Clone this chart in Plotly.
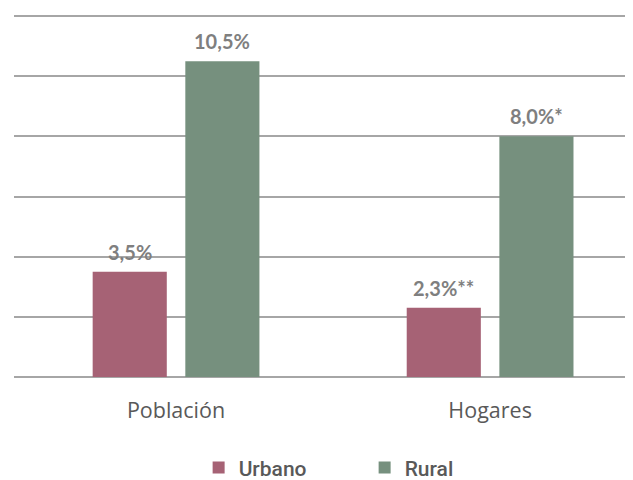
import plotly.graph_objects as go

categories = ["Población", "Hogares"]
series_names = ["Urbano", "Rural"]
urbano = [3.5, 2.3]
rural = [10.5, 8.0]
urbano_labels = ["3,5%", "2,3%**"]
rural_labels = ["10,5%", "8,0%*"]
y_ticks = [0, 2, 4, 6, 8, 10, 12]

colors = {"Urbano": "#A66275", "Rural": "#76907E"}

fig = go.Figure()
for name, vals in [("Urbano", urbano), ("Rural", rural)]:
    fig.add_trace(go.Bar(
        x=categories, y=vals, name=name,
        marker=dict(color=colors[name], line=dict(width=0)),
    ))

bargap = 0.41
slot = (1 - bargap) / 2
for j, (vals, labels) in enumerate([(urbano, urbano_labels), (rural, rural_labels)]):
    off = -slot / 2 if j == 0 else slot / 2
    for i, (v, t) in enumerate(zip(vals, labels)):
        fig.add_annotation(
            x=i + off, y=v, text="<b>" + t + "</b>", showarrow=False,
            yanchor="bottom", yshift=6,
            font=dict(family="Lato", size=20, color="#7F7F7F"),
        )

fig.update_layout(
    width=625, height=472,
    margin=dict(l=6, r=0, t=5, b=103, autoexpand=False),
    plot_bgcolor="white", paper_bgcolor="white",
    barmode="group", bargap=bargap, bargroupgap=0.2,
    showlegend=True,
    legend=dict(
        orientation="h", xref="container", yref="container",
        x=0.305, y=0.026, xanchor="left", yanchor="middle",
        entrywidth=121, entrywidthmode="pixels",
        font=dict(family="Roboto", size=21, color="#595959", weight=500),
    ),
    xaxis=dict(
        type="category", range=[-0.516, 1.455],
        showgrid=False, showline=False, ticks="",
        ticklabelstandoff=18,
        tickfont=dict(family="Open Sans", size=21.5, color="#595959"),
    ),
    yaxis=dict(
        range=[0, 12.1], tickvals=y_ticks, showticklabels=False,
        showgrid=True, gridcolor="#A6A6A6", gridwidth=1.5,
        zeroline=True, zerolinecolor="#A6A6A6", zerolinewidth=1.5,
        showline=False,
    ),
)

fig.write_html("out.html")
